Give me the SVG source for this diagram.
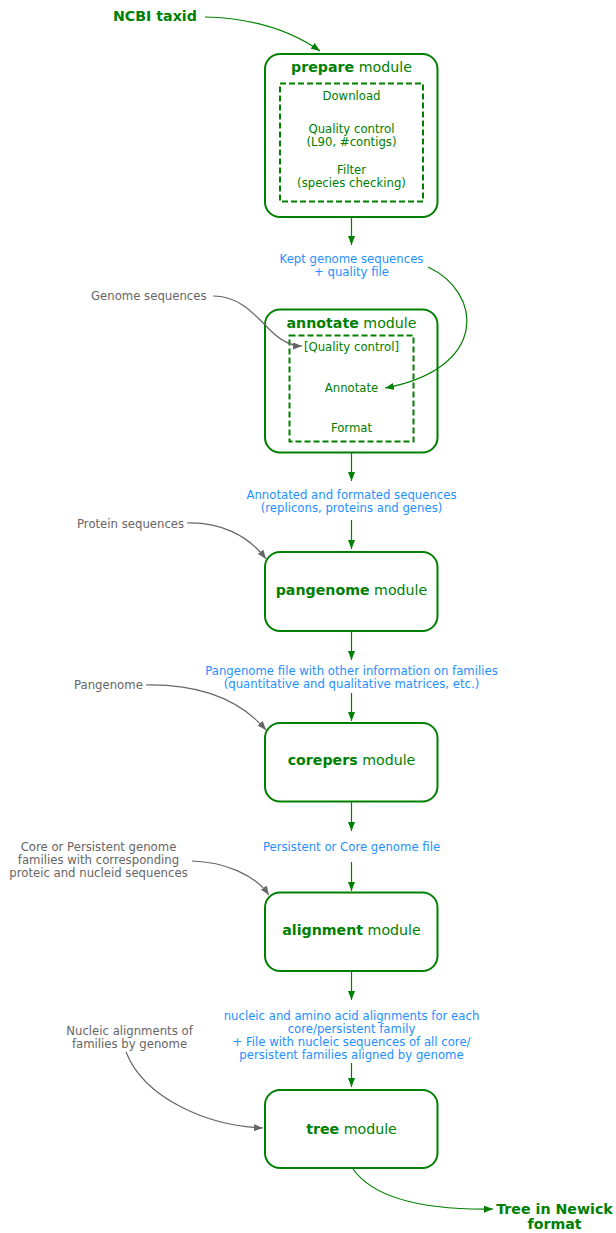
<svg xmlns="http://www.w3.org/2000/svg" width="616" height="1233" viewBox="0 0 616 1233">
<style>
text{font-family:"DejaVu Sans","Liberation Sans",sans-serif;}
.box{fill:#fff;stroke:#008000;stroke-width:2;}
.dash{fill:none;stroke:#008000;stroke-width:2;stroke-dasharray:6,3;}
.title{font-size:14.2px;fill:#008000;text-anchor:middle;}
.b{font-weight:bold;}
.inner{font-size:11.7px;fill:#008000;text-anchor:middle;}
.blue{font-size:11.7px;fill:#1E90FF;text-anchor:middle;}
.gray{font-size:11.7px;fill:#666;}
.big{font-size:14.2px;font-weight:bold;fill:#008000;}
.g{fill:none;stroke:#008000;stroke-width:1.2;}
.k{fill:none;stroke:#666;stroke-width:1.2;}
</style>
<defs>
<marker id="ag" markerWidth="9" markerHeight="7" refX="9" refY="3.5" orient="auto" markerUnits="userSpaceOnUse"><path d="M0,0 L9,3.5 L0,7 Z" fill="#008000"/></marker>
<marker id="ak" markerWidth="9" markerHeight="7" refX="9" refY="3.5" orient="auto" markerUnits="userSpaceOnUse"><path d="M0,0 L9,3.5 L0,7 Z" fill="#666"/></marker>
</defs>

<g id="ncbi"><text class="big" x="113" y="21">NCBI taxid</text></g>

<g id="prepare">
<rect class="box" x="265" y="54" width="172.5" height="163" rx="15"/>
<text class="title" x="351.5" y="72"><tspan class="b">prepare</tspan> module</text>
<rect class="dash" x="280" y="83.5" width="143" height="118"/>
<text class="inner" x="351.5" y="100">Download</text>
<text class="inner" x="351.5" y="132.5">Quality control</text>
<text class="inner" x="351.5" y="145.5">(L90, #contigs)</text>
<text class="inner" x="351.5" y="174">Filter</text>
<text class="inner" x="351.5" y="187">(species checking)</text>
</g>

<g id="kept"><text class="blue" x="351.5" y="263">Kept genome sequences</text><text class="blue" x="351.5" y="276">+ quality file</text></g>

<g id="genomeseq"><text class="gray" x="91" y="300">Genome sequences</text></g>

<g id="annotate">
<rect class="box" x="265" y="309.5" width="172.5" height="143" rx="15"/>
<text class="title" x="351.5" y="327.5"><tspan class="b">annotate</tspan> module</text>
<rect class="dash" x="289.5" y="335.5" width="124" height="106"/>
<text class="inner" x="351.5" y="351">[Quality control]</text>
<text class="inner" x="351.5" y="391.5">Annotate</text>
<text class="inner" x="351.5" y="431.5">Format</text>
</g>

<g id="annotated"><text class="blue" x="351.5" y="499">Annotated and formated sequences</text><text class="blue" x="351.5" y="512">(replicons, proteins and genes)</text></g>

<g id="proteinseq"><text class="gray" x="77" y="527.5">Protein sequences</text></g>

<g id="pangenome">
<rect class="box" x="265" y="552" width="172.5" height="79" rx="15"/>
<text class="title" x="351.5" y="595"><tspan class="b">pangenome</tspan> module</text>
</g>

<g id="pangenomefile"><text class="blue" x="351.5" y="675">Pangenome file with other information on families</text><text class="blue" x="351.5" y="688">(quantitative and qualitative matrices, etc.)</text></g>

<g id="pangenomein"><text class="gray" x="74" y="689">Pangenome</text></g>

<g id="corepers">
<rect class="box" x="265" y="723" width="172.5" height="78.5" rx="15"/>
<text class="title" x="351.5" y="765"><tspan class="b">corepers</tspan> module</text>
</g>

<g id="persistentfile"><text class="blue" x="351.5" y="851">Persistent or Core genome file</text></g>

<g id="coreinput">
<text class="gray" x="98.5" y="851" text-anchor="middle">Core or Persistent genome</text>
<text class="gray" x="98.5" y="864" text-anchor="middle">families with corresponding</text>
<text class="gray" x="98.5" y="877" text-anchor="middle">proteic and nucleid sequences</text>
</g>

<g id="alignment">
<rect class="box" x="265" y="892.5" width="172.5" height="78.5" rx="15"/>
<text class="title" x="351.5" y="935"><tspan class="b">alignment</tspan> module</text>
</g>

<g id="alignfiles">
<text class="blue" x="351.5" y="1020">nucleic and amino acid alignments for each</text>
<text class="blue" x="351.5" y="1033">core/persistent family</text>
<text class="blue" x="351.5" y="1046">+ File with nucleic sequences of all core/</text>
<text class="blue" x="351.5" y="1059">persistent families aligned by genome</text>
</g>

<g id="nucleicinput">
<text class="gray" x="129.5" y="1035" text-anchor="middle">Nucleic alignments of</text>
<text class="gray" x="129.5" y="1048" text-anchor="middle">families by genome</text>
</g>

<g id="tree">
<rect class="box" x="265" y="1090" width="172.5" height="78" rx="15"/>
<text class="title" x="351.5" y="1133.5"><tspan class="b">tree</tspan> module</text>
</g>

<g id="newick">
<text class="big" x="554.5" y="1214" text-anchor="middle">Tree in Newick</text>
<text class="big" x="554.5" y="1228.5" text-anchor="middle">format</text>
</g>

<g id="connectors">
<path class="g" d="M205,17 C250,18 290,30 320,51" marker-end="url(#ag)"/>
<path class="g" d="M351.5,218 L351.5,245" marker-end="url(#ag)"/>
<path class="g" d="M428,267 C482,292 490,368 385,388" marker-end="url(#ag)"/>
<path class="k" d="M213,296 C240,296 255,315 270,330 C282,342 292,346 302,346" marker-end="url(#ak)"/>
<path class="g" d="M351.5,453 L351.5,481" marker-end="url(#ag)"/>
<path class="g" d="M351.5,520 L351.5,549" marker-end="url(#ag)"/>
<path class="k" d="M187,523 C220,522 248,535 266,559" marker-end="url(#ak)"/>
<path class="g" d="M351.5,632 L351.5,660" marker-end="url(#ag)"/>
<path class="g" d="M351.5,693 L351.5,721" marker-end="url(#ag)"/>
<path class="k" d="M146,685 C200,684 240,700 266,730" marker-end="url(#ak)"/>
<path class="g" d="M351.5,802 L351.5,831" marker-end="url(#ag)"/>
<path class="g" d="M351.5,862 L351.5,891" marker-end="url(#ag)"/>
<path class="k" d="M192,861 C225,862 255,875 269,895" marker-end="url(#ak)"/>
<path class="g" d="M351.5,971 L351.5,1000" marker-end="url(#ag)"/>
<path class="g" d="M351.5,1063 L351.5,1087" marker-end="url(#ag)"/>
<path class="k" d="M126,1052 C145,1100 210,1126 263,1128" marker-end="url(#ak)"/>
<path class="g" d="M353,1169 C375,1200 430,1210 493,1209" marker-end="url(#ag)"/>
</g>
</svg>
